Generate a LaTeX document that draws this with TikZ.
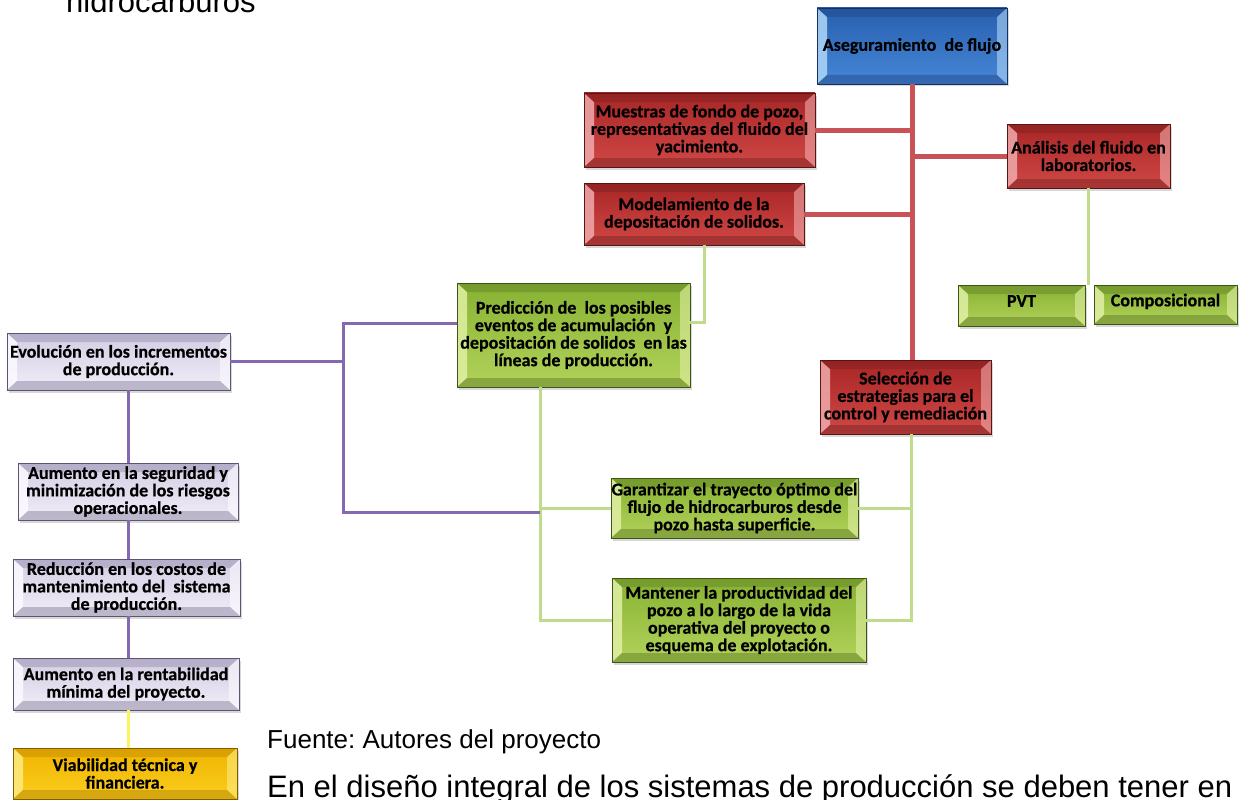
\documentclass[tikz,border=0pt]{standalone}
\usepackage{fontspec}
\newfontfamily\carl{Carlito}[BoldFeatures={FakeBold=0.6}]
\newfontfamily\arialf{Liberation Sans}
\usetikzlibrary{shadows}
\frenchspacing
\definecolor{rTop}{RGB}{168,38,38}
\definecolor{rBot}{RGB}{208,72,70}
\definecolor{rLight}{RGB}{240,170,170}
\definecolor{rBorder}{RGB}{105,28,28}
\definecolor{bTop}{RGB}{40,95,175}
\definecolor{bBot}{RGB}{70,135,215}
\definecolor{bLight}{RGB}{175,215,248}
\definecolor{bBorder}{RGB}{30,60,120}
\definecolor{gTop}{RGB}{135,178,50}
\definecolor{gBot}{RGB}{178,210,90}
\definecolor{gLight}{RGB}{225,240,165}
\definecolor{gBorder}{RGB}{78,105,30}
\definecolor{lTop}{RGB}{212,205,228}
\definecolor{lBot}{RGB}{240,237,247}
\definecolor{lLight}{RGB}{252,250,255}
\definecolor{lBorder}{RGB}{115,105,140}
\definecolor{yTop}{RGB}{240,180,0}
\definecolor{yBot}{RGB}{250,205,30}
\definecolor{yLight}{RGB}{253,235,130}
\definecolor{yBorder}{RGB}{165,115,0}
\definecolor{lnRed}{RGB}{200,82,88}
\definecolor{lnGreen}{RGB}{190,220,140}
\definecolor{lnPurple}{RGB}{132,104,178}
\definecolor{lnYellow}{RGB}{250,245,95}
\tikzset{
  bev/.style n args={4}{draw=#4!80!black, line width=0.8pt, top color=#1, bottom color=#2,
    inner sep=0pt, align=center, text=black,
    font=\carl\bfseries\fontsize{18}{17.5}\selectfont,
    drop shadow={shadow xshift=2pt, shadow yshift=-2.5pt, opacity=0.3},
    path picture={
      \path (path picture bounding box.north west) coordinate (pnw)
            (path picture bounding box.south east) coordinate (pse)
            (path picture bounding box.north east) coordinate (pne)
            (path picture bounding box.south west) coordinate (psw);
      \fill[#3, opacity=.85] (pnw) -- ([shift={(10pt,-9pt)}]pnw) -- ([shift={(10pt,9pt)}]psw) -- (psw) -- cycle;
      \fill[#3, opacity=.6] (pne) -- ([shift={(-10pt,-9pt)}]pne) -- ([shift={(-10pt,9pt)}]pse) -- (pse) -- cycle;
      \fill[#4, opacity=.30] (pnw) -- (pne) -- ([shift={(-10pt,-9pt)}]pne) -- ([shift={(10pt,-9pt)}]pnw) -- cycle;
      \fill[#4, opacity=.40] (psw) -- (pse) -- ([shift={(-10pt,9pt)}]pse) -- ([shift={(10pt,9pt)}]psw) -- cycle;
    }},
  redbox/.style={bev={rTop}{rBot}{rLight}{rBorder}},
  bluebox/.style={bev={bTop}{bBot}{bLight}{bBorder}},
  greenbox/.style={bev={gTop}{gBot}{gLight}{gBorder}},
  lilacbox/.style={bev={lTop}{lBot}{lLight}{lBorder}},
  goldbox/.style={bev={yTop}{yBot}{yLight}{yBorder}},
  redline/.style={draw=lnRed, line width=5pt},
  greenline/.style={draw=lnGreen, line width=3pt},
  purpleline/.style={draw=lnPurple, line width=3pt},
  yellowline/.style={draw=lnYellow, line width=3pt},
  bodytext/.style={inner sep=0pt, anchor=base west, text=black}
}
\newcommand\bx[7]{%
  \pgfmathsetmacro\bw{#4-#2}\pgfmathsetmacro\bh{#5-#3}%
  \node[#6, minimum width=\bw pt, minimum height=\bh pt] (#1) at ({(#2+#4)/2},{(#3+#5)/2}) {#7};}
\begin{document}
\begin{tikzpicture}[x=1pt,y=-1pt]
\useasboundingbox (0,0) rectangle (1240,800);
\clip (0,0) rectangle (1240,800);
\fill[white] (0,0) rectangle (1240,800);
% junction coordinates
\coordinate (mj) at (704,322);
\coordinate (gL) at (540,0);
\coordinate (gR) at (911,0);
\coordinate (pT) at (343,323);
\coordinate (pB) at (343,512);
\coordinate (lx) at (128,0);
% texts
\node[bodytext, font=\arialf\fontsize{31}{37}\selectfont] (t1) at (66,13) {hidrocarburos};
\node[bodytext, font=\arialf\fontsize{26}{31}\selectfont] (t2) at (267,748) {Fuente: Autores del proyecto};
\node[bodytext, font=\arialf\fontsize{31}{37}\selectfont] (t3) at (267,797) {En el diseño integral de los sistemas de producción se deben tener en};
% boxes
\bx{blue}{817}{8}{1007}{84}{bluebox}{Aseguramiento\ \ de flujo}
\bx{mue}{584}{93}{815}{167}{redbox}{Muestras de fondo de pozo,\\representativas del fluido del\\yacimiento.}
\bx{ana}{1007}{124}{1170}{188}{redbox}{Análisis del fluido en\\laboratorios.}
\bx{mod}{584}{183}{804}{245}{redbox}{Modelamiento de la\\depositación de solidos.}
\bx{pred}{457}{283}{690}{387}{greenbox}{Predicción de\ \ los posibles\\eventos de acumulación\ \ y\\depositación de solidos\ \ en las\\líneas de producción.}
\bx{pvt}{958}{285}{1085}{326}{greenbox}{\raisebox{9pt}{PVT}}
\bx{comp}{1094}{285}{1237}{324}{greenbox}{\raisebox{9pt}{Composicional}}
\bx{sel}{820}{360}{991}{434}{redbox}{Selección de\\estrategias para el\\control y remediación}
\bx{gar}{611}{478}{858}{538}{greenbox}{Garantizar el trayecto óptimo del\\flujo de hidrocarburos desde\\pozo hasta superficie.}
\bx{man}{612}{578}{866}{662}{greenbox}{Mantener la productividad del\\pozo a lo largo de la vida\\operativa del proyecto o\\esquema de explotación.}
\bx{evo}{7}{333}{230}{390}{lilacbox}{Evolución en los incrementos\\de producción.}
\bx{seg}{18}{463}{238}{520}{lilacbox}{Aumento en la seguridad y\\minimización de los riesgos\\operacionales.}
\bx{redu}{13}{559}{240}{616}{lilacbox}{Reducción en los costos de\\mantenimiento del\ \ sistema\\de producción.}
\bx{rent}{13}{658}{239}{710}{lilacbox}{Aumento en la rentabilidad\\mínima del proyecto.}
\bx{via}{13}{748}{237}{799}{goldbox}{Viabilidad técnica y\\financiera.}
% red trunk
\draw[redline] (blue.south) -- (blue.south |- sel.north);
\draw[redline] (mue.east) -- (mue.east -| blue.south);
\draw[redline] (blue.south |- ana.west) -- (ana.west);
\draw[redline] (mod.east) -- (mod.east -| blue.south);
% green
\draw[greenline] (ana.south) -- (ana.south |- pvt.north);
\draw[greenline] (mod.south -| mj) -- (mj) -- (mj -| pred.east);
\draw[greenline] (pred.south -| gL) -- (gL |- man.west) -- (man.west);
\draw[greenline] (gL |- gar.west) -- (gar.west);
\draw[greenline] (sel.south -| gR) -- (gR |- man.east) -- (man.east);
\draw[greenline] (gar.east) -- (gar.east -| gR);
% purple
\draw[purpleline] (evo.east) -- (evo.east -| pT);
\draw[purpleline] (pred.west |- pT) -- (pT) -- (pB) -- (pB -| gL);
\draw[purpleline] (evo.south -| lx) -- (lx |- seg.north);
\draw[purpleline] (seg.south -| lx) -- (lx |- redu.north);
\draw[purpleline] (redu.south -| lx) -- (lx |- rent.north);
\draw[yellowline] (rent.south -| lx) -- (lx |- via.north);
\end{tikzpicture}
\end{document}
